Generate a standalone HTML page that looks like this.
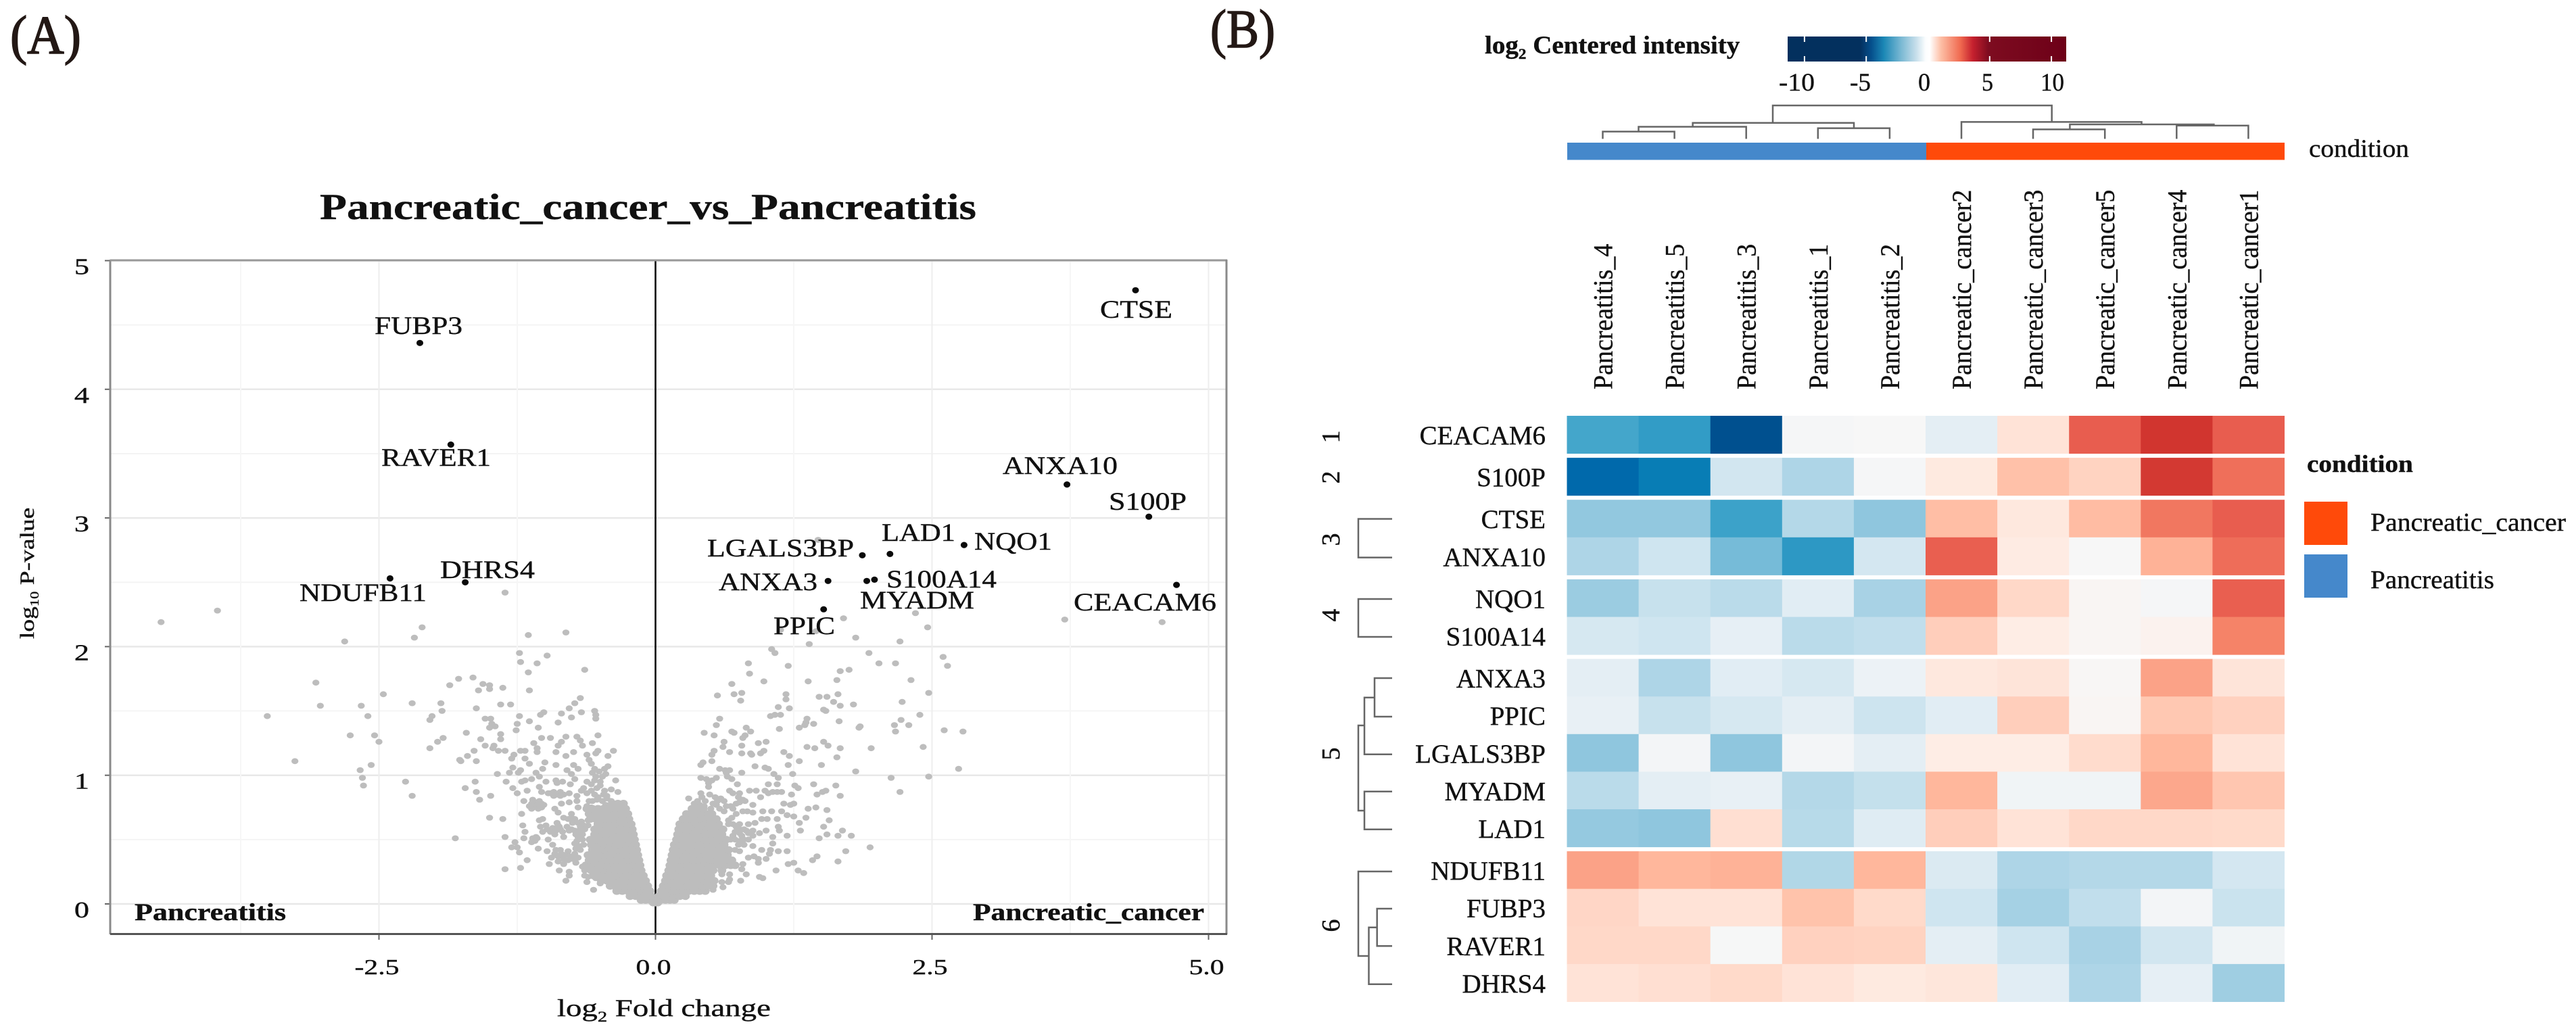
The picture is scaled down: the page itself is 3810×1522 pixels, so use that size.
<!DOCTYPE html>
<html lang="en">
<head>
<meta charset="utf-8">
<title>Pancreatic cancer vs pancreatitis: volcano plot and heatmap</title>
<style>
html,body{margin:0;padding:0;background:#fff;width:3810px;height:1522px;overflow:hidden}
svg{display:block;font-family:"Liberation Serif",serif;fill:#111}
text{stroke:#111;stroke-width:.4px}
.gene{font-size:37px}
.bold{font-weight:bold}
</style>
</head>
<body>
<svg id="figure" xmlns="http://www.w3.org/2000/svg" width="3810" height="1522" viewBox="0 0 3810 1522">
<rect x="0" y="0" width="3810" height="1522" fill="#fff"/>

<text x="15" y="79" font-size="80" fill="#231815" style="stroke:#231815;stroke-width:1.6px" textLength="105" lengthAdjust="spacingAndGlyphs">(A)</text>
<text x="1790" y="70" font-size="80" fill="#231815" style="stroke:#231815;stroke-width:1.6px" textLength="96" lengthAdjust="spacingAndGlyphs">(B)</text>

<g id="volcano">
  <text class="bold" x="473" y="324" font-size="54" textLength="971" lengthAdjust="spacingAndGlyphs">Pancreatic_cancer_vs_Pancreatitis</text>
  <g id="volcano-grid"></g>
  <line x1="969.5" y1="385" x2="969.5" y2="1381" stroke="#000" stroke-width="2.5"/>
  <g id="volcano-axes"></g>
  <g id="gray-points"></g>
  <g id="hit-points"></g>
  <line x1="163" y1="384" x2="163" y2="1382" stroke="#8a8a8a" stroke-width="3"/>
  <line x1="163" y1="385" x2="1815" y2="385" stroke="#999" stroke-width="3"/>
  <line x1="1814" y1="384" x2="1814" y2="1382" stroke="#8a8a8a" stroke-width="3"/>
  <line x1="163" y1="1381.5" x2="1815" y2="1381.5" stroke="#555" stroke-width="3"/>

  <text class="gene" x="554" y="494" textLength="130" lengthAdjust="spacingAndGlyphs">FUBP3</text>
  <text class="gene" x="564" y="689" textLength="162" lengthAdjust="spacingAndGlyphs">RAVER1</text>
  <text class="gene" x="1483" y="701" textLength="170" lengthAdjust="spacingAndGlyphs">ANXA10</text>
  <text class="gene" x="1640" y="754" textLength="115" lengthAdjust="spacingAndGlyphs">S100P</text>
  <text class="gene" x="1588" y="903" textLength="211" lengthAdjust="spacingAndGlyphs">CEACAM6</text>
  <text class="gene" x="1627" y="470" textLength="107" lengthAdjust="spacingAndGlyphs">CTSE</text>
  <text class="gene" x="1304" y="800" textLength="109" lengthAdjust="spacingAndGlyphs">LAD1</text>
  <text class="gene" x="1441" y="813" textLength="115" lengthAdjust="spacingAndGlyphs">NQO1</text>
  <text class="gene" x="1046" y="823" textLength="217" lengthAdjust="spacingAndGlyphs">LGALS3BP</text>
  <text class="gene" x="1063" y="873" textLength="146" lengthAdjust="spacingAndGlyphs">ANXA3</text>
  <text class="gene" x="1311" y="869" textLength="163" lengthAdjust="spacingAndGlyphs">S100A14</text>
  <text class="gene" x="1272" y="900" textLength="169" lengthAdjust="spacingAndGlyphs">MYADM</text>
  <text class="gene" x="1144" y="938" textLength="91" lengthAdjust="spacingAndGlyphs">PPIC</text>
  <text class="gene" x="651" y="855" textLength="140" lengthAdjust="spacingAndGlyphs">DHRS4</text>
  <text class="gene" x="443" y="889" textLength="188" lengthAdjust="spacingAndGlyphs">NDUFB11</text>

  <text class="bold" x="199" y="1361" font-size="36" textLength="224" lengthAdjust="spacingAndGlyphs">Pancreatitis</text>
  <text class="bold" x="1439" y="1361" font-size="36" textLength="342" lengthAdjust="spacingAndGlyphs">Pancreatic_cancer</text>

  <text font-size="36" transform="translate(824,1503) scale(1.3,1)">log<tspan font-size="22" dy="8">2</tspan><tspan dy="-8"> Fold change</tspan></text>
  <text font-size="30" transform="translate(50,945) rotate(-90) scale(1.25,1)">log<tspan font-size="18" dy="7">10</tspan><tspan dy="-7"> P-value</tspan></text>
</g>

<g id="heatmap-panel">
  <defs>
    <linearGradient id="colorbar-gradient" x1="0" y1="0" x2="1" y2="0">
      <stop offset="0" stop-color="#03305E"/>
      <stop offset="0.26" stop-color="#03305E"/>
      <stop offset="0.30" stop-color="#054F8C"/>
      <stop offset="0.345" stop-color="#1B87B5"/>
      <stop offset="0.40" stop-color="#6FB3D0"/>
      <stop offset="0.46" stop-color="#C5DEEA"/>
      <stop offset="0.495" stop-color="#FBFDFE"/>
      <stop offset="0.51" stop-color="#FFFFFF"/>
      <stop offset="0.55" stop-color="#FDBFA6"/>
      <stop offset="0.62" stop-color="#F06A50"/>
      <stop offset="0.665" stop-color="#C5202E"/>
      <stop offset="0.72" stop-color="#7E0C20"/>
      <stop offset="1" stop-color="#6D0018"/>
    </linearGradient>
  </defs>
  <text class="bold" font-size="37" transform="translate(2196,79) scale(1.055,1)">log<tspan font-size="22" dy="8">2</tspan><tspan dy="-8"> Centered intensity</tspan></text>
  <rect x="2644" y="54" width="412" height="37" fill="url(#colorbar-gradient)"/>
  <g id="colorbar-ticks"></g>
  <text x="2631" y="134" font-size="37" textLength="53" lengthAdjust="spacingAndGlyphs">-10</text>
  <text x="2736" y="134" font-size="37" textLength="31" lengthAdjust="spacingAndGlyphs">-5</text>
  <text x="2837" y="134" font-size="37" textLength="18" lengthAdjust="spacingAndGlyphs">0</text>
  <text x="2931" y="134" font-size="37" textLength="17" lengthAdjust="spacingAndGlyphs">5</text>
  <text x="3018" y="134" font-size="37" textLength="35" lengthAdjust="spacingAndGlyphs">10</text>

  <g fill="none" stroke="#666" stroke-width="2.5">
    <path d="M2622 182V156H3034.7V180.4"/>
    <path d="M2503.6 187.5V181.8H2742V189.6"/>
    <path d="M2423.5 194.6V187.5H2582.7V205.4"/>
    <path d="M2370.5 205.4V194.6H2476.6V205.4"/>
    <path d="M2688.8 205.4V189.6H2794.9V205.4"/>
    <path d="M2901 205.4V180.4H3167.5V184"/>
    <path d="M3061.4 191.4V184H3274.4V185.7"/>
    <path d="M3007 205.4V191.4H3113.2V205.4"/>
    <path d="M3219.3 205.4V185.7H3325.4V205.4"/>
  </g>

  <rect x="2318" y="211" width="531" height="25.5" fill="#4588CB"/>
  <rect x="2849" y="211" width="530" height="25.5" fill="#FF4A0A"/>
  <text x="3415" y="232" font-size="37" textLength="148" lengthAdjust="spacingAndGlyphs">condition</text>

  <g id="heatmap-cells"></g>
  <g id="column-labels"></g>
  <g id="row-labels"></g>

  <g font-size="38">
    <text text-anchor="middle" transform="translate(1981,646) rotate(-90)">1</text>
    <text text-anchor="middle" transform="translate(1981,706) rotate(-90)">2</text>
    <text text-anchor="middle" transform="translate(1981,798) rotate(-90)">3</text>
    <text text-anchor="middle" transform="translate(1981,910) rotate(-90)">4</text>
    <text text-anchor="middle" transform="translate(1981,1115) rotate(-90)">5</text>
    <text text-anchor="middle" transform="translate(1981,1369) rotate(-90)">6</text>
  </g>

  <g fill="none" stroke="#666" stroke-width="2.5">
    <path d="M2059 767.5H2009V824.6H2059"/>
    <path d="M2059 886H2009V942H2059"/>
    <path d="M2059 1003H2033V1060H2059"/>
    <path d="M2033 1031.7H2018V1115.7H2059"/>
    <path d="M2018 1073H2009V1199H2018"/>
    <path d="M2059 1170.7H2018V1226.7H2059"/>
    <path d="M2059 1289H2009V1414H2024.5"/>
    <path d="M2036.7 1371.7H2024.5V1455.7H2059"/>
    <path d="M2059 1344H2036.7V1399.3H2059"/>
  </g>

  <text class="bold" x="3412" y="698" font-size="36" textLength="157" lengthAdjust="spacingAndGlyphs">condition</text>
  <rect x="3408" y="742" width="64" height="64" fill="#FF4A0A"/>
  <rect x="3408" y="820" width="64" height="64" fill="#4588CB"/>
  <text x="3506" y="785" font-size="38" textLength="289" lengthAdjust="spacingAndGlyphs">Pancreatic_cancer</text>
  <text x="3506" y="870" font-size="38" textLength="183" lengthAdjust="spacingAndGlyphs">Pancreatitis</text>
</g>
</svg>

<script>
// ---------- volcano data: [log2 fold change, -log10 p-value] ----------
const xTickValues = [-2.5, 0, 2.5, 5];
const xTickLabels = ["-2.5", "0.0", "2.5", "5.0"];
const xMinorValues = [-3.75, -1.25, 1.25, 3.75];
const yTickValues = [0, 1, 2, 3, 4, 5];
const yTickLabels = ["0", "1", "2", "3", "4", "5"];
const yMinorValues = [0.5, 1.5, 2.5, 3.5, 4.5];

const hitGeneNames = ["FUBP3","RAVER1","ANXA10","S100P","CEACAM6","CTSE","NQO1","LAD1","LGALS3BP","ANXA3","S100A14","MYADM","PPIC","DHRS4","NDUFB11"];
const hitFoldChange = [-2.13,-1.85,3.72,4.46,4.71,4.34,2.79,2.12,1.87,1.56,1.98,1.91,1.52,-1.72,-2.40];
const hitLogP = [4.36,3.57,3.26,3.01,2.48,4.77,2.79,2.72,2.71,2.51,2.52,2.51,2.29,2.50,2.53];

const sparseGenesFarLeft = [[-4.47,2.19],[-3.96,2.28],[-2.81,2.04],[-2.11,2.15],[-2.18,2.07],[-3.07,1.72],[-2.46,1.63],[-2.20,1.56],[-3.03,1.54],[-2.66,1.54],[-3.51,1.46],[-2.60,1.46],[-2.04,1.43],[-2.02,1.46],[-2.76,1.31],[-2.54,1.31],[-2.50,1.26],[-2.04,1.21],[-3.26,1.11],[-2.57,1.08],[-2.67,1.04],[-2.65,0.98],[-2.64,0.92],[-2.26,0.95],[-2.20,0.84],[-1.36,2.42]];

const sparseGenesLeft = [[-1.15,2.09],[-0.81,2.11],[-1.23,1.95],[-0.98,1.93],[-1.22,1.88],[-1.07,1.87],[-1.15,1.80],[-0.64,1.82],[-1.78,1.75],[-1.65,1.76],[-1.86,1.70],[-1.56,1.71],[-1.50,1.70],[-1.50,1.67],[-1.60,1.66],[-1.38,1.68],[-1.14,1.66],[-1.94,1.56],[-1.93,1.50],[-0.68,1.60],[-0.73,1.56],[-0.78,1.52],[-0.85,1.48],[-0.67,1.49],[-0.76,1.45],[-0.88,1.41],[-1.40,1.55],[-1.31,1.55],[-1.62,1.52],[-1.01,1.49],[-1.04,1.47],[-0.55,1.50],[-0.54,1.47],[-0.54,1.44],[-1.23,1.46],[-1.14,1.42],[-1.06,1.37],[-1.25,1.40],[-1.26,1.35],[-1.54,1.44],[-1.49,1.44],[-1.48,1.40],[-1.45,1.38],[-1.50,1.37],[-1.71,1.33],[-1.40,1.32],[-1.40,1.28],[-0.52,1.31],[-1.03,1.29],[-0.95,1.29],[-0.81,1.30],[-0.85,1.26],[-0.88,1.23],[-0.90,1.18],[-0.71,1.30],[-0.68,1.27],[-0.66,1.23],[-0.57,1.25],[-0.52,1.19],[-0.54,1.17],[-0.38,1.19],[-0.43,1.15],[-1.58,1.28],[-1.54,1.23],[-1.46,1.23],[-1.47,1.21],[-1.42,1.19],[-1.36,1.19],[-1.10,1.25],[-1.07,1.21],[-1.07,1.18],[-1.22,1.19],[-1.18,1.19],[-1.28,1.16],[-1.30,1.13],[-1.18,1.13],[-1.64,1.19],[-1.70,1.15],[-1.77,1.12],[-1.76,1.11],[-1.62,1.11],[-0.74,1.18],[-0.81,1.15],[-0.62,1.16],[-0.60,1.12],[-0.58,1.09],[-1.92,1.29],[-1.97,1.26],[-1.14,1.09],[-1.00,1.10],[-0.90,1.08],[-0.74,1.08],[-0.80,1.04],[-0.70,1.05],[-0.76,1.01],[-0.73,0.97],[-0.77,0.93],[-1.02,1.05],[-1.08,1.02],[-1.05,0.99],[-1.29,1.06],[-1.22,1.04],[-1.24,1.02],[-1.32,1.02],[-1.43,1.01],[-1.35,0.95],[-1.21,0.95],[-1.18,0.96],[-1.12,0.97],[-1.29,0.90],[-1.25,0.86],[-1.16,0.88],[-1.63,0.95],[-1.72,0.90],[-1.62,0.87],[-1.59,0.81],[-1.49,0.84],[-0.99,0.95],[-1.05,0.91],[-1.03,0.87],[-0.90,0.96],[-0.89,0.94],[-0.84,0.95],[-0.95,0.86],[-0.89,0.85],[-0.83,0.85],[-0.78,0.86],[-0.67,0.88],[-0.62,0.86],[-0.71,0.84],[-0.62,0.95],[-0.55,0.96],[-0.51,1.03],[-0.43,1.07],[-0.45,1.01],[-0.36,0.96],[-0.50,0.95],[-0.34,0.87],[-0.40,0.89],[-0.46,0.88],[-1.19,0.80],[-1.11,0.81],[-1.05,0.80],[-1.01,0.77],[-1.08,0.76],[-1.14,0.76],[-0.60,0.80],[-0.71,0.80],[-0.70,0.75],[-0.85,0.78],[-0.78,0.79],[-0.91,0.74],[-0.88,0.71],[-1.21,0.70],[-1.50,0.67],[-1.38,0.66],[-1.02,0.66],[-1.05,0.65],[-0.76,0.70],[-0.83,0.67],[-0.73,0.66],[-0.67,0.64],[-0.61,0.65],[-0.61,0.61],[-1.20,0.61],[-1.18,0.56],[-1.04,0.60],[-0.99,0.61],[-0.88,0.61],[-0.93,0.59],[-0.86,0.58],[-1.02,0.56],[-0.91,0.54],[-0.78,0.57],[-0.72,0.54],[-0.66,0.54],[-0.83,0.52],[-1.81,0.51],[-1.36,0.52],[-1.19,0.51],[-1.11,0.51],[-1.07,0.51],[-1.12,0.48],[-0.97,0.50],[-1.27,0.48],[-1.25,0.44],[-1.30,0.44],[-1.23,0.40],[-0.93,0.46],[-1.06,0.43],[-0.98,0.41],[-0.71,0.49],[-0.69,0.45],[-0.86,0.42],[-0.79,0.41],[-0.73,0.39],[-0.91,0.39],[-0.94,0.36],[-0.85,0.39],[-0.79,0.34],[-0.72,0.32],[-1.16,0.34],[-0.96,0.31],[-1.22,0.28],[-1.36,0.27],[-0.83,0.31],[-0.87,0.26],[-0.78,0.25],[-0.78,0.22],[-0.81,0.18],[-0.64,0.26],[-0.61,0.21],[-0.62,0.17],[-0.56,0.11],[-0.50,0.16]];

const clumpGenesLeft = [[-0.98,0.58],[-0.95,0.56],[-0.90,0.57],[-0.87,0.60],[-0.84,0.56],[-0.89,0.63],[-0.79,0.66],[-0.76,0.67],[-0.75,0.63],[-0.70,0.63],[-0.68,0.60],[-0.65,0.61],[-0.80,0.60],[-0.76,0.58],[-0.73,0.57],[-0.69,0.57],[-0.64,0.58],[-0.70,0.52],[-0.66,0.50],[-0.73,0.47],[-0.68,0.42],[-0.72,0.43],[-0.65,0.46],[-0.90,0.42],[-0.88,0.37],[-0.82,0.38],[-0.77,0.37],[-0.75,0.35],[-0.70,0.36],[-0.88,0.33],[-0.83,0.35],[-1.09,0.49],[-1.08,0.52],[-1.12,0.78],[-1.09,0.79],[-1.06,0.78],[-1.03,0.78],[-1.12,0.74],[-1.06,0.74],[-1.03,0.75],[-0.97,0.86],[-0.92,0.87],[-0.86,0.87],[-0.92,0.84],[-0.86,0.84],[-0.65,0.90],[-0.58,0.88],[-0.53,0.90],[-0.58,0.93],[-0.50,0.92],[-0.47,0.85],[-0.55,0.85],[-0.52,0.83],[-0.44,0.84],[-0.57,1.02],[-0.55,1.05],[-0.54,0.99],[-0.48,0.99],[-0.46,1.05],[-0.62,0.76],[-0.58,0.75],[-0.53,0.73],[-0.57,0.80],[-0.53,0.81],[-0.48,0.80],[-0.44,0.82],[-0.40,0.80],[-0.45,0.77],[-0.66,0.29],[-0.60,0.27],[-0.57,0.22],[-0.54,0.20],[-0.64,0.22],[-0.52,0.25]];

const sparseGenesRight = [[4.58,2.19],[3.70,2.21],[1.47,2.83],[2.35,2.26],[1.70,2.22],[2.46,2.15],[1.81,2.07],[2.21,2.04],[1.39,2.02],[1.05,1.98],[1.08,1.95],[1.13,2.13],[1.45,2.12],[1.93,1.95],[2.02,1.87],[2.17,1.87],[2.60,1.92],[2.64,1.85],[0.84,1.87],[0.85,1.79],[1.20,1.85],[0.98,1.73],[1.38,1.73],[1.67,1.81],[1.75,1.82],[1.64,1.74],[2.31,1.74],[0.69,1.71],[0.71,1.63],[0.78,1.64],[0.56,1.62],[0.77,1.58],[1.18,1.63],[1.18,1.59],[1.48,1.61],[1.55,1.61],[1.65,1.63],[1.61,1.57],[1.67,1.54],[1.79,1.55],[2.47,1.64],[2.23,1.57],[1.11,1.53],[1.21,1.52],[1.52,1.51],[1.54,1.50],[1.04,1.46],[1.08,1.47],[1.13,1.47],[2.39,1.47],[0.58,1.44],[0.55,1.39],[1.37,1.44],[1.36,1.41],[1.66,1.42],[2.22,1.43],[1.43,1.40],[1.30,1.37],[1.35,1.39],[1.85,1.38],[1.84,1.37],[2.16,1.39],[2.17,1.34],[2.29,1.39],[1.12,1.36],[2.61,1.35],[2.78,1.34],[0.44,1.33],[0.53,1.31],[0.69,1.34],[0.71,1.33],[0.82,1.37],[0.86,1.34],[0.81,1.31],[0.79,1.29],[0.62,1.26],[0.93,1.25],[1.00,1.26],[1.52,1.26],[1.56,1.23],[0.78,1.23],[1.37,1.22],[1.44,1.21],[1.67,1.21],[1.95,1.21],[2.42,1.22],[0.61,1.22],[0.53,1.19],[0.51,1.16],[0.67,1.18],[0.78,1.17],[0.86,1.17],[0.87,1.16],[0.95,1.17],[0.98,1.19],[1.16,1.18],[1.21,1.15],[1.64,1.14],[1.30,1.11],[0.51,1.11],[0.43,1.10],[0.41,1.08],[1.50,1.08],[1.20,1.08],[0.90,1.07],[0.99,1.06],[1.02,1.05],[2.74,1.05],[0.58,1.05],[0.63,1.04],[0.67,1.04],[0.64,1.02],[0.78,1.02],[1.81,1.03],[1.07,1.01],[1.11,0.98],[1.24,1.01],[2.47,0.99],[2.13,0.98],[0.65,0.99],[0.69,0.97],[0.41,0.98],[0.46,0.97],[0.51,0.96],[0.55,0.98],[0.48,0.94],[0.48,0.91],[0.74,0.93],[1.02,0.93],[1.10,0.93],[1.26,0.92],[1.29,0.90],[1.43,0.93],[1.63,0.92],[0.85,0.88],[0.91,0.88],[0.99,0.88],[1.02,0.86],[1.06,0.87],[1.10,0.87],[1.14,0.87],[0.67,0.88],[0.70,0.86],[0.76,0.86],[0.75,0.83],[0.41,0.86],[1.23,0.85],[1.46,0.85],[1.51,0.87],[1.54,0.88],[1.67,0.84],[2.21,0.87],[0.95,0.83],[0.30,0.82],[0.49,0.85],[0.54,0.83],[0.59,0.82],[0.62,0.80],[0.79,0.81],[0.81,0.80],[0.76,0.79],[0.45,0.80],[0.40,0.77],[0.36,0.74],[0.55,0.77],[0.68,0.76],[0.73,0.78],[0.88,0.77],[1.16,0.78],[1.22,0.77],[1.25,0.78],[1.38,0.74],[1.45,0.75],[1.55,0.73],[0.79,0.72],[0.83,0.72],[0.88,0.71],[0.97,0.72],[1.05,0.72],[1.14,0.72],[1.19,0.69],[1.25,0.68],[1.36,0.67],[1.57,0.65],[0.96,0.66],[1.01,0.66],[1.10,0.66],[1.30,0.63],[1.52,0.60],[0.73,0.70],[0.69,0.67],[0.66,0.65],[0.90,0.63],[0.84,0.62],[0.76,0.62],[1.11,0.60],[1.12,0.57],[1.31,0.57],[1.69,0.57],[1.77,0.53],[1.65,0.53],[1.55,0.54],[1.48,0.51],[1.19,0.53],[1.00,0.57],[0.94,0.55],[0.88,0.53],[0.82,0.57],[0.76,0.58],[0.70,0.53],[1.06,0.52],[1.06,0.47],[0.78,0.53],[0.75,0.46],[0.80,0.46],[0.88,0.45],[1.94,0.44],[1.72,0.41],[0.96,0.42],[1.04,0.42],[1.11,0.41],[1.19,0.41],[1.03,0.39],[1.46,0.37],[1.42,0.34],[1.65,0.33],[0.84,0.36],[0.89,0.37],[0.93,0.35],[1.00,0.35],[0.93,0.32],[0.79,0.31],[0.78,0.27],[1.20,0.31],[1.25,0.32],[1.09,0.26],[1.29,0.26],[1.34,0.24],[0.82,0.23],[0.77,0.18],[0.94,0.21],[0.97,0.20],[0.60,0.23],[0.67,0.23],[0.66,0.17],[0.60,0.17],[0.61,0.13],[0.52,0.11],[0.67,0.19]];

const clumpGenesRight = [[0.66,0.62],[0.70,0.62],[0.73,0.60],[0.76,0.55],[0.80,0.58],[0.84,0.55],[0.88,0.57],[0.72,0.56],[0.68,0.50],[0.72,0.50],[0.76,0.49],[0.80,0.50],[0.72,0.42],[0.76,0.41],[0.84,0.50],[0.35,0.78],[0.42,0.83],[0.52,0.78],[0.58,0.74],[0.62,0.72],[0.50,0.74],[0.44,0.76],[0.56,0.80],[0.64,0.76],[0.70,0.74],[0.38,0.80]];

// dense core of the volcano, read row by row: [-log10 p, [log2 fold changes]]
const denseCoreLeft = [
[0.01,[0,-0.02,0.02]],
[0.03,[-0.02,-0.05,-0.09,-0.13]],
[0.06,[-0.04,-0.08,-0.13,-0.18,-0.23]],
[0.10,[-0.05,-0.10,-0.15,-0.20,-0.25,-0.30,-0.35]],
[0.14,[-0.07,-0.12,-0.17,-0.22,-0.27,-0.32,-0.37,-0.41]],
[0.18,[-0.09,-0.14,-0.19,-0.24,-0.29,-0.34,-0.39,-0.44,-0.49]],
[0.22,[-0.11,-0.16,-0.21,-0.26,-0.31,-0.36,-0.41,-0.46,-0.51,-0.56]],
[0.26,[-0.13,-0.18,-0.23,-0.28,-0.33,-0.38,-0.43,-0.48,-0.53,-0.58]],
[0.30,[-0.14,-0.19,-0.24,-0.29,-0.34,-0.39,-0.44,-0.49,-0.54,-0.59,-0.63]],
[0.34,[-0.15,-0.20,-0.25,-0.30,-0.35,-0.40,-0.45,-0.50,-0.55,-0.60]],
[0.38,[-0.16,-0.21,-0.26,-0.31,-0.36,-0.41,-0.46,-0.51,-0.56,-0.61]],
[0.42,[-0.17,-0.22,-0.27,-0.32,-0.37,-0.42,-0.47,-0.52,-0.57]],
[0.46,[-0.18,-0.23,-0.28,-0.33,-0.38,-0.43,-0.48,-0.53,-0.58]],
[0.50,[-0.19,-0.24,-0.29,-0.34,-0.39,-0.44,-0.49,-0.54,-0.59]],
[0.54,[-0.20,-0.25,-0.30,-0.35,-0.40,-0.45,-0.50,-0.55]],
[0.58,[-0.21,-0.26,-0.31,-0.36,-0.41,-0.46,-0.51,-0.55]],
[0.62,[-0.22,-0.27,-0.32,-0.37,-0.42,-0.47,-0.52]],
[0.66,[-0.24,-0.29,-0.34,-0.39,-0.44,-0.49,-0.54,-0.59]],
[0.70,[-0.25,-0.30,-0.35,-0.40,-0.45,-0.50,-0.55,-0.60]],
[0.74,[-0.27,-0.32,-0.37,-0.42,-0.47,-0.52,-0.57,-0.62]],
[0.78,[-0.29,-0.34,-0.39]]
];
const denseCoreRight = [
[0.03,[0.02,0.05,0.09,0.13,0.17]],
[0.06,[0.03,0.07,0.12,0.17,0.22,0.27]],
[0.10,[0.05,0.10,0.15,0.20,0.25,0.30,0.35,0.40,0.45]],
[0.14,[0.07,0.12,0.17,0.22,0.27,0.32,0.37,0.42,0.47,0.52]],
[0.18,[0.09,0.14,0.19,0.24,0.29,0.34,0.39,0.44,0.49,0.53]],
[0.22,[0.10,0.15,0.20,0.25,0.30,0.35,0.40,0.45,0.50]],
[0.26,[0.12,0.17,0.22,0.27,0.32,0.37,0.42,0.47,0.52,0.60]],
[0.30,[0.13,0.18,0.23,0.28,0.33,0.38,0.43,0.48,0.53,0.58,0.63,0.68,0.72]],
[0.34,[0.14,0.19,0.24,0.29,0.34,0.39,0.44,0.49,0.54,0.59,0.64,0.69]],
[0.38,[0.15,0.20,0.25,0.30,0.35,0.40,0.45,0.50,0.55,0.60,0.65]],
[0.42,[0.16,0.21,0.26,0.31,0.36,0.41,0.46,0.51,0.56,0.61,0.66]],
[0.46,[0.17,0.22,0.27,0.32,0.37,0.42,0.47,0.52,0.57,0.62]],
[0.50,[0.19,0.24,0.29,0.34,0.39,0.44,0.49,0.54,0.59,0.64]],
[0.54,[0.20,0.25,0.30,0.35,0.40,0.45,0.50,0.55,0.60]],
[0.58,[0.21,0.26,0.31,0.36,0.41,0.46,0.51,0.56,0.61]],
[0.62,[0.22,0.27,0.32,0.37,0.42,0.47,0.52,0.57]],
[0.66,[0.25,0.30,0.35,0.40,0.45,0.50,0.55]],
[0.70,[0.28,0.33,0.38,0.43,0.48,0.51]],
[0.74,[0.33,0.38,0.43]]
];

// ---------- heatmap data ----------
const rowGenes = ["CEACAM6","S100P","CTSE","ANXA10","NQO1","S100A14","ANXA3","PPIC","LGALS3BP","MYADM","LAD1","NDUFB11","FUBP3","RAVER1","DHRS4"];
const rowClusters = [0,1,2,2,3,3,4,4,4,4,4,5,5,5,5];
const sampleNames = ["Pancreatitis_4","Pancreatitis_5","Pancreatitis_3","Pancreatitis_1","Pancreatitis_2","Pancreatic_cancer2","Pancreatic_cancer3","Pancreatic_cancer5","Pancreatic_cancer4","Pancreatic_cancer1"];
const heatmapValues = [
[-2.9,-3.2,-6,-0.05,0,-0.5,0.7,4,5,4],
[-5,-4.2,-0.9,-1.5,-0.05,0.5,1.7,1.15,4.9,3.5],
[-1.95,-1.95,-3,-1.4,-2,1.8,0.55,1.85,3.3,4],
[-1.5,-0.95,-2.3,-3.3,-0.85,3.95,0.45,0,2.1,3.55],
[-1.8,-1.1,-1.3,-0.55,-1.6,2.4,1,0.1,-0.05,3.95],
[-0.8,-0.95,-0.45,-1.3,-1.2,1.3,0.4,0.1,0.2,3],
[-0.5,-1.5,-0.55,-0.8,-0.3,0.55,0.65,0.05,2.4,0.65],
[-0.4,-1.1,-0.8,-0.5,-1,-0.55,1.3,0.1,1.5,1.2],
[-2,-0.1,-2,-0.1,-0.5,0.4,0.4,0.9,2,0.7],
[-1.3,-0.5,-0.4,-1.4,-1.15,2,-0.2,-0.2,2.3,1.55],
[-1.9,-2,0.8,-1.35,-0.6,1.3,0.7,1,1,0.95],
[2.4,2,2.1,-1.45,2,-0.7,-1.5,-1.4,-1.4,-0.85],
[1.05,0.7,0.7,1.65,0.95,-0.95,-1.65,-1.2,-0.1,-1.05],
[1,1,-0.02,1.2,1.15,-0.5,-0.95,-1.6,-0.9,-0.2],
[0.7,0.8,0.95,0.7,0.5,0.6,-0.55,-1.5,-0.45,-1.75]
];
const colorScaleValues = [-6,-5,-4,-3,-2,-1,-0.4,0,0.4,1,2,3,3.5,4,5,6];
const colorScaleColors = ["#00508F","#0069AB","#0A82B8","#3CA2C9","#8FC6DE","#CDE4EF","#E8F0F5","#F7F7F7","#FEEDE5","#FFD8C8","#FFB79C","#F58368","#EF6F5A","#E85D4F","#D1352F","#B2182B"];
const colorbarTickValues = [-10,-5,0,5,10];

// ---------- scales and layout ----------
const svgNS = "http://www.w3.org/2000/svg";
const volcanoX = v => 969.5 + 163.6 * v;
const volcanoY = v => 1337 - 190.3 * v;
const heatX = i => 2317.5 + 106.1 * i;
const heatRowY = i => 615 + 55.6 * i + 6.5 * rowClusters[i];
const colorbarX = v => 2851.5 + 18.26 * v;

function make(parent, tag, attrs) {
  const el = document.createElementNS(svgNS, tag);
  for (const key in attrs) el.setAttribute(key, attrs[key]);
  parent.appendChild(el);
  return el;
}
function stretch(el, factor) {
  el.setAttribute("textLength", (el.getComputedTextLength() * factor).toFixed(1));
  el.setAttribute("lengthAdjust", "spacingAndGlyphs");
}
function hexToRgb(hex) {
  return [1, 3, 5].map(i => parseInt(hex.slice(i, i + 2), 16));
}
function heatColor(v) {
  const last = colorScaleValues.length - 1;
  if (v <= colorScaleValues[0]) return colorScaleColors[0];
  if (v >= colorScaleValues[last]) return colorScaleColors[last];
  let k = 0;
  while (v > colorScaleValues[k + 1]) k++;
  const t = (v - colorScaleValues[k]) / (colorScaleValues[k + 1] - colorScaleValues[k]);
  const a = hexToRgb(colorScaleColors[k]);
  const b = hexToRgb(colorScaleColors[k + 1]);
  return "rgb(" + a.map((c, i) => Math.round(c + (b[i] - c) * t)).join(",") + ")";
}

// ---------- volcano gridlines ----------
const gridGroup = document.getElementById("volcano-grid");
yMinorValues.forEach(v => {
  const line = make(gridGroup, "line", {x1: 163, x2: 1814, y1: volcanoY(v), y2: volcanoY(v), stroke: "#f4f4f4", "stroke-width": 2});
  
  
});
yTickValues.forEach(v => {
  const line = make(gridGroup, "line", {x1: 163, x2: 1814, y1: volcanoY(v), y2: volcanoY(v), stroke: "#e8e8e8", "stroke-width": 2.5});
  
  
});
xMinorValues.forEach(v => {
  const line = make(gridGroup, "line", {y1: 385, y2: 1381, x1: volcanoX(v), x2: volcanoX(v), stroke: "#f6f6f6", "stroke-width": 2});
  
  
});
xTickValues.forEach(v => {
  const line = make(gridGroup, "line", {y1: 385, y2: 1381, x1: volcanoX(v), x2: volcanoX(v), stroke: "#eeeeee", "stroke-width": 2});
  
  
});

// ---------- volcano axes ----------
const axesGroup = document.getElementById("volcano-axes");
yTickValues.forEach((v, i) => {
  const tick = make(axesGroup, "line", {x1: 155, x2: 163, y1: volcanoY(v), y2: volcanoY(v), stroke: "#666", "stroke-width": 2});
  
  
  const label = make(axesGroup, "text", {x: 121, y: volcanoY(v) + 20, "text-anchor": "middle", "font-size": 34});
  label.textContent = yTickLabels[i];
  
  
  stretch(label, 1.3);
});
xTickValues.forEach((v, i) => {
  const tick = make(axesGroup, "line", {x1: volcanoX(v), x2: volcanoX(v), y1: 1381, y2: 1390, stroke: "#666", "stroke-width": 2});
  
  
  const label = make(axesGroup, "text", {x: volcanoX(v) - 3, y: 1441, "text-anchor": "middle", "font-size": 32});
  label.textContent = xTickLabels[i];
  
  
  stretch(label, 1.3);
});

// ---------- volcano points ----------
const grayGroup = document.getElementById("gray-points");
function drawGrayPoint(fc, logP, rx, ry) {
  const dot = make(grayGroup, "ellipse", {cx: volcanoX(fc).toFixed(1), cy: volcanoY(logP).toFixed(1), rx: rx, ry: ry, fill: "#BDBDBD"});
  
  
}
sparseGenesFarLeft.forEach(p => drawGrayPoint(p[0], p[1], 5.2, 4.4));
sparseGenesLeft.forEach(p => drawGrayPoint(p[0], p[1], 5.2, 4.4));
sparseGenesRight.forEach(p => drawGrayPoint(p[0], p[1], 5.2, 4.4));
clumpGenesLeft.forEach(p => drawGrayPoint(p[0], p[1], 5.2, 4.4));
clumpGenesRight.forEach(p => drawGrayPoint(p[0], p[1], 5.2, 4.4));
denseCoreLeft.forEach(row => row[1].forEach(fc => drawGrayPoint(fc, row[0], 6.5, 5.6)));
denseCoreRight.forEach(row => row[1].forEach(fc => drawGrayPoint(fc, row[0], 6.5, 5.6)));

const hitGroup = document.getElementById("hit-points");
hitGeneNames.forEach((name, i) => {
  const dot = make(hitGroup, "ellipse", {cx: volcanoX(hitFoldChange[i]).toFixed(1), cy: volcanoY(hitLogP[i]).toFixed(1), rx: 5, ry: 4.6, fill: "#0a0a0a"});
  
  
});

// ---------- heatmap ----------
const cellGroup = document.getElementById("heatmap-cells");
heatmapValues.forEach((row, r) => {
  row.forEach((value, c) => {
    const cell = make(cellGroup, "rect", {x: heatX(c).toFixed(1), y: heatRowY(r).toFixed(1), width: 106.6, height: 56.1, fill: heatColor(value)});
    
    
  });
});
const rowLabelGroup = document.getElementById("row-labels");
rowGenes.forEach((gene, r) => {
  const label = make(rowLabelGroup, "text", {x: 2286, y: (heatRowY(r) + 42).toFixed(1), "text-anchor": "end", "font-size": 39});
  label.textContent = gene;
  
  
});
const columnLabelGroup = document.getElementById("column-labels");
sampleNames.forEach((sample, c) => {
  const label = make(columnLabelGroup, "text", {transform: "translate(" + (heatX(c) + 53 + 14).toFixed(1) + ",576) rotate(-90)", "font-size": 40});
  label.textContent = sample;
  
  
  stretch(label, 0.95);
});

// ---------- colorbar ticks ----------
const colorbarGroup = document.getElementById("colorbar-ticks");
colorbarTickValues.forEach(v => {
  const top = make(colorbarGroup, "line", {x1: colorbarX(v), x2: colorbarX(v), y1: 54, y2: 62, stroke: "#fff", "stroke-width": 2});
  
  
  const bottom = make(colorbarGroup, "line", {x1: colorbarX(v), x2: colorbarX(v), y1: 83, y2: 91, stroke: "#fff", "stroke-width": 2});
  
  
});
</script>
</body>
</html>
